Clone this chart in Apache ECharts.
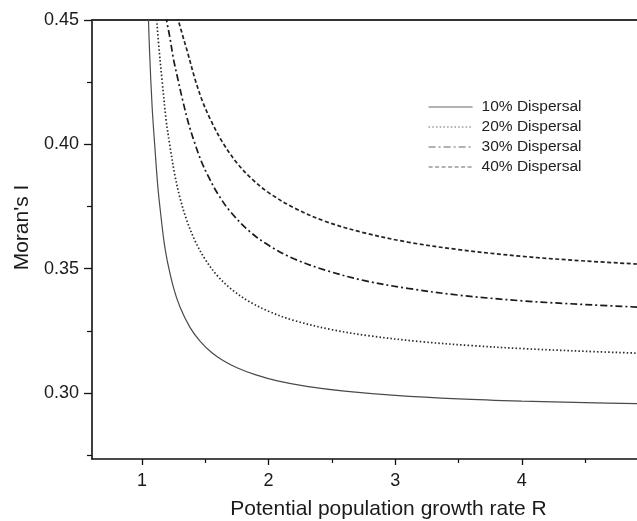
<!DOCTYPE html>
<html>
<head>
<meta charset="utf-8">
<script src="https://cdn.jsdelivr.net/npm/echarts@6/dist/echarts.min.js"></script>
<style>html,body{margin:0;padding:0;background:#fff;}#c{width:637px;height:521px;}</style>
</head>
<body>
<div id="c"></div>
<script>
// Potential population growth rate R (x) and Moran's I (y) for each dispersal level
const r10 = [1.04, 1.05, 1.06, 1.08, 1.10, 1.125, 1.15, 1.175, 1.20, 1.25, 1.30, 1.38, 1.46, 1.55, 1.64, 1.75, 1.9, 2.07, 2.3, 2.6, 3.0, 3.5, 4.0, 4.5, 4.95];
const i10 = [0.47, 0.452, 0.437, 0.415, 0.400, 0.383, 0.371, 0.3605, 0.3531, 0.3422, 0.3346, 0.3263, 0.3208, 0.3163, 0.3131, 0.3102, 0.3073, 0.3049, 0.3027, 0.3008, 0.2991, 0.2977, 0.2968, 0.2962, 0.2957];

const r20 = [1.10, 1.11, 1.13, 1.16, 1.19, 1.22, 1.26, 1.30, 1.35, 1.42, 1.50, 1.60, 1.72, 1.85, 2.0, 2.2, 2.5, 2.8, 3.2, 3.6, 4.0, 4.5, 4.95];
const i20 = [0.468, 0.455, 0.441, 0.425, 0.410, 0.3995, 0.3875, 0.3785, 0.370, 0.3611, 0.3537, 0.3469, 0.3412, 0.3367, 0.3329, 0.3292, 0.3255, 0.3230, 0.3207, 0.3191, 0.3179, 0.3168, 0.3160];

const r30 = [1.18, 1.19, 1.22, 1.25, 1.28, 1.32, 1.37, 1.42, 1.47, 1.53, 1.60, 1.70, 1.85, 2.0, 2.2, 2.45, 2.75, 3.1, 3.5, 4.0, 4.5, 4.95];
const i30 = [0.47, 0.452, 0.443, 0.434, 0.427, 0.418, 0.408, 0.400, 0.393, 0.3865, 0.380, 0.3728, 0.3650, 0.3594, 0.3540, 0.3494, 0.3453, 0.3421, 0.3394, 0.3371, 0.3356, 0.3345];

const r40 = [1.27, 1.28, 1.32, 1.36, 1.42, 1.48, 1.55, 1.64, 1.75, 1.87, 2.0, 2.2, 2.45, 2.75, 3.1, 3.5, 4.0, 4.5, 4.95];
const i40 = [0.462, 0.452, 0.444, 0.437, 0.426, 0.417, 0.409, 0.4005, 0.3925, 0.3860, 0.3806, 0.3745, 0.3690, 0.3645, 0.3607, 0.3577, 0.3550, 0.3531, 0.3518];

const seriesNames = ['10% Dispersal', '20% Dispersal', '30% Dispersal', '40% Dispersal'];
const xMajorTicks = [1, 2, 3, 4];
const xMinorTicks = [1.5, 2.5, 3.5, 4.5];
const yMajorTicks = [0.30, 0.35, 0.40, 0.45];
const yMinorTicks = [0.275, 0.325, 0.375, 0.425];

const X_MIN = 0.605, X_MAX = 4.91, Y_MIN = 0.2735, Y_MAX = 0.45;
const FONT = 'Liberation Sans, Arial, sans-serif';

function pairs(xs, ys) { return xs.map((x, k) => [x, ys[k]]); }

const chart = echarts.init(document.getElementById('c'), null, {renderer: 'canvas'});

const styles = [
  {color: '#4a4a4a', width: 1.2, type: 'solid'},
  {color: '#2a2a2a', width: 1.7, type: [1.5, 2.2]},
  {color: '#1a1a1a', width: 1.7, type: [7, 3, 2, 3]},
  {color: '#222222', width: 1.7, type: [4, 2.5]}
];
const datas = [pairs(r10, i10), pairs(r20, i20), pairs(r30, i30), pairs(r40, i40)];

chart.setOption({
  animation: false,
  backgroundColor: '#fff',
  grid: {left: 92, right: 0, top: 20, bottom: 62, containLabel: false, outerBoundsMode: 'none'},
  legend: {
    orient: 'vertical', left: 428, top: 99, padding: 0,
    itemWidth: 44, itemHeight: 14, itemGap: 4,
    itemStyle: {color: 'transparent', borderWidth: 0, opacity: 0},
    lineStyle: {color: '#666', width: 1.2},
    textStyle: {fontFamily: FONT, fontSize: 15.5, lineHeight: 16, color: '#222', padding: [0, 0, 0, 4]},
    data: seriesNames
  },
  xAxis: [
    {
      type: 'value', min: X_MIN, max: X_MAX, position: 'bottom',
      name: 'Potential population growth rate R', nameLocation: 'middle', nameGap: 40,
      nameTextStyle: {fontFamily: FONT, fontSize: 21, color: '#1a1a1a', padding: [0, 0, 0, 48]},
      axisLine: {show: true, onZero: false, lineStyle: {color: '#111', width: 1.6}},
      axisTick: {show: true, length: 6, customValues: xMajorTicks, lineStyle: {color: '#111', width: 1.3}},
      axisLabel: {show: true, customValues: xMajorTicks, margin: 13, fontFamily: FONT, fontSize: 18, color: '#1a1a1a'},
      splitLine: {show: false}
    },
    {
      type: 'value', min: X_MIN, max: X_MAX, position: 'bottom', gridIndex: 0,
      axisLine: {show: false, onZero: false},
      axisTick: {show: true, length: 4, customValues: xMinorTicks, lineStyle: {color: '#111', width: 1.2}},
      axisLabel: {show: false},
      splitLine: {show: false}
    },
    {
      type: 'value', min: X_MIN, max: X_MAX, position: 'top', gridIndex: 0,
      axisLine: {show: true, onZero: false, lineStyle: {color: '#333', width: 2}},
      axisTick: {show: false}, axisLabel: {show: false}, splitLine: {show: false}
    }
  ],
  yAxis: [
    {
      type: 'value', min: Y_MIN, max: Y_MAX, position: 'left',
      name: "Moran's I", nameLocation: 'middle', nameGap: 58, nameRotate: 90,
      nameTextStyle: {fontFamily: FONT, fontSize: 21, color: '#1a1a1a', padding: [0, 0, 0, 24]},
      axisLine: {show: true, onZero: false, lineStyle: {color: '#111', width: 1.6}},
      axisTick: {show: true, length: 8, customValues: yMajorTicks, lineStyle: {color: '#111', width: 1.3}},
      axisLabel: {show: true, customValues: yMajorTicks, margin: 13, fontFamily: FONT, fontSize: 18, color: '#1a1a1a',
        formatter: v => v.toFixed(2)},
      splitLine: {show: false}
    },
    {
      type: 'value', min: Y_MIN, max: Y_MAX, position: 'left',
      axisLine: {show: false, onZero: false},
      axisTick: {show: true, length: 5, customValues: yMinorTicks, lineStyle: {color: '#111', width: 1.2}},
      axisLabel: {show: false},
      splitLine: {show: false}
    }
  ],
  series: seriesNames.map((name, k) => ({
    name: name, type: 'line', xAxisIndex: 0, yAxisIndex: 0,
    data: datas[k], showSymbol: false, symbol: 'none',
    smooth: 0.35, clip: true,
    lineStyle: styles[k], itemStyle: {color: styles[k].color}
  }))
});
</script>
</body>
</html>
